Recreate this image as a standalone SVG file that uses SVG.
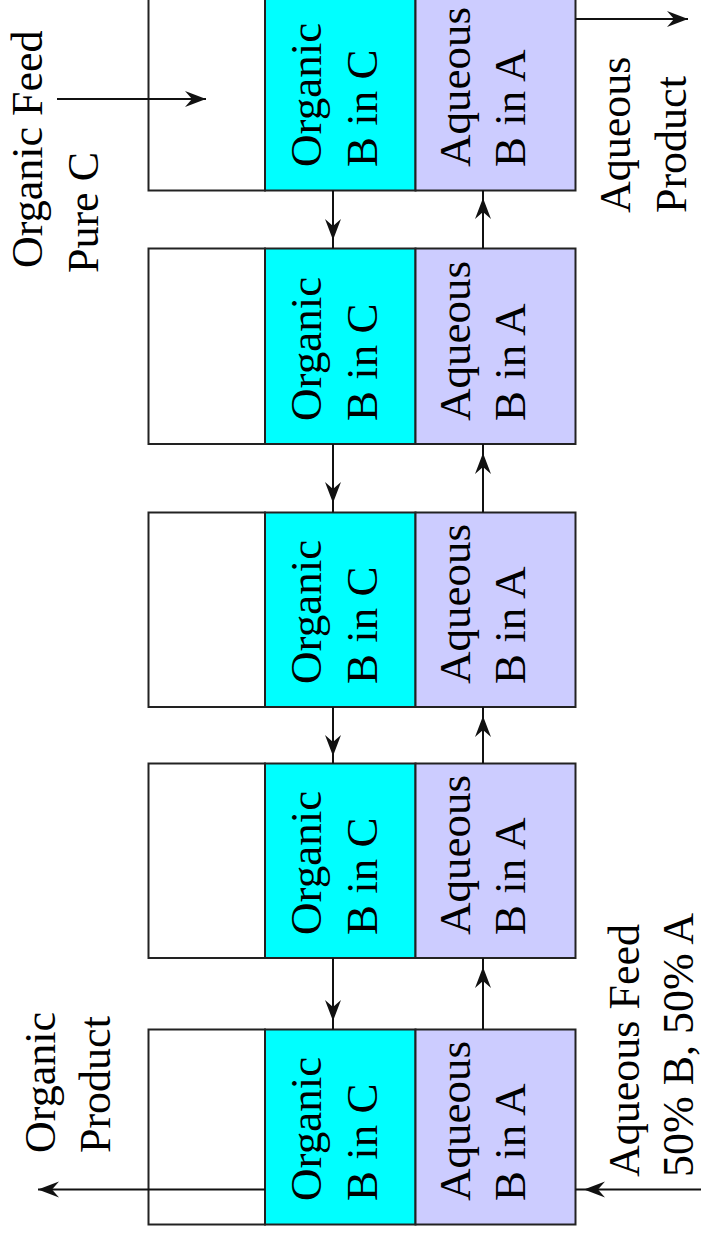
<svg xmlns="http://www.w3.org/2000/svg" width="701" height="1243" viewBox="0 0 701 1243">
<style>
.w{fill:#fff;stroke:#222;stroke-width:2}
.o{fill:#00ffff;stroke:#222;stroke-width:2}
.a{fill:#ccccff;stroke:#222;stroke-width:2}
.c{fill:none;stroke:#111;stroke-width:2}
</style>
<defs>
<marker id="ah" markerUnits="userSpaceOnUse" markerWidth="26" markerHeight="20" viewBox="-24 -10 26 20" refX="0" refY="0" orient="auto">
<path d="M0,0 L-21,-8 L-14,0 L-21,8 Z" fill="#111"/>
</marker>
</defs>
<rect width="701" height="1243" fill="#fff"/>

<g id="stage1">
<rect class="w" x="148.5" y="-10" width="116.5" height="200.5"/>
<rect class="o" x="265" y="-10" width="150.5" height="200.5"/>
<rect class="a" x="415.5" y="-10" width="160" height="200.5"/>
<text font-family="Liberation Serif" font-size="45" transform="translate(321,167) rotate(-90)">Organic</text>
<text font-family="Liberation Serif" font-size="45" transform="translate(377,167) rotate(-90)">B in C</text>
<text font-family="Liberation Serif" font-size="45" transform="translate(470,167) rotate(-90)">Aqueous</text>
<text font-family="Liberation Serif" font-size="45" transform="translate(525,167) rotate(-90)">B in A</text>
</g>

<g id="stage2">
<rect class="w" x="148.5" y="248.5" width="116.5" height="195.5"/>
<rect class="o" x="265" y="248.5" width="150.5" height="195.5"/>
<rect class="a" x="415.5" y="248.5" width="160" height="195.5"/>
<text font-family="Liberation Serif" font-size="45" transform="translate(321,421) rotate(-90)">Organic</text>
<text font-family="Liberation Serif" font-size="45" transform="translate(377,421) rotate(-90)">B in C</text>
<text font-family="Liberation Serif" font-size="45" transform="translate(470,421) rotate(-90)">Aqueous</text>
<text font-family="Liberation Serif" font-size="45" transform="translate(525,421) rotate(-90)">B in A</text>
</g>

<g id="stage3">
<rect class="w" x="148.5" y="512.5" width="116.5" height="194.5"/>
<rect class="o" x="265" y="512.5" width="150.5" height="194.5"/>
<rect class="a" x="415.5" y="512.5" width="160" height="194.5"/>
<text font-family="Liberation Serif" font-size="45" transform="translate(321,684) rotate(-90)">Organic</text>
<text font-family="Liberation Serif" font-size="45" transform="translate(377,684) rotate(-90)">B in C</text>
<text font-family="Liberation Serif" font-size="45" transform="translate(470,684) rotate(-90)">Aqueous</text>
<text font-family="Liberation Serif" font-size="45" transform="translate(525,684) rotate(-90)">B in A</text>
</g>

<g id="stage4">
<rect class="w" x="148.5" y="763.5" width="116.5" height="194.5"/>
<rect class="o" x="265" y="763.5" width="150.5" height="194.5"/>
<rect class="a" x="415.5" y="763.5" width="160" height="194.5"/>
<text font-family="Liberation Serif" font-size="45" transform="translate(321,935) rotate(-90)">Organic</text>
<text font-family="Liberation Serif" font-size="45" transform="translate(377,935) rotate(-90)">B in C</text>
<text font-family="Liberation Serif" font-size="45" transform="translate(470,935) rotate(-90)">Aqueous</text>
<text font-family="Liberation Serif" font-size="45" transform="translate(525,935) rotate(-90)">B in A</text>
</g>

<g id="stage5">
<rect class="w" x="148.5" y="1029.5" width="116.5" height="195"/>
<rect class="o" x="265" y="1029.5" width="150.5" height="195"/>
<rect class="a" x="415.5" y="1029.5" width="160" height="195"/>
<text font-family="Liberation Serif" font-size="45" transform="translate(321,1201) rotate(-90)">Organic</text>
<text font-family="Liberation Serif" font-size="45" transform="translate(377,1201) rotate(-90)">B in C</text>
<text font-family="Liberation Serif" font-size="45" transform="translate(470,1201) rotate(-90)">Aqueous</text>
<text font-family="Liberation Serif" font-size="45" transform="translate(525,1201) rotate(-90)">B in A</text>
</g>

<g id="connectors">
<path class="c" d="M57,99 H206" marker-end="url(#ah)"/>
<path class="c" d="M575.5,19 H688" marker-end="url(#ah)"/>
<path class="c" d="M333,190.5 V240 V248.5" marker-mid="url(#ah)"/>
<path class="c" d="M483,248.5 V198 V190.5" marker-mid="url(#ah)"/>
<path class="c" d="M333,444 V503 V512.5" marker-mid="url(#ah)"/>
<path class="c" d="M483,512.5 V453 V444" marker-mid="url(#ah)"/>
<path class="c" d="M333,707 V756 V763.5" marker-mid="url(#ah)"/>
<path class="c" d="M483,763.5 V716 V707" marker-mid="url(#ah)"/>
<path class="c" d="M333,958 V1021 V1029.5" marker-mid="url(#ah)"/>
<path class="c" d="M483,1029.5 V967 V958" marker-mid="url(#ah)"/>
<path class="c" d="M265,1189.5 H38" marker-end="url(#ah)"/>
<path class="c" d="M701,1189.5 H584 H575.5" marker-mid="url(#ah)"/>
</g>

<g id="label-organic-feed">
<text font-family="Liberation Serif" font-size="44" transform="translate(42,268) rotate(-90)">Organic Feed</text>
<text font-family="Liberation Serif" font-size="44" transform="translate(98,273) rotate(-90)">Pure C</text>
</g>
<g id="label-aqueous-product">
<text font-family="Liberation Serif" font-size="44" transform="translate(630,213) rotate(-90)">Aqueous</text>
<text font-family="Liberation Serif" font-size="44" transform="translate(686,213) rotate(-90)">Product</text>
</g>
<g id="label-organic-product">
<text font-family="Liberation Serif" font-size="44" transform="translate(55,1153) rotate(-90)">Organic</text>
<text font-family="Liberation Serif" font-size="44" transform="translate(110,1153) rotate(-90)">Product</text>
</g>
<g id="label-aqueous-feed">
<text font-family="Liberation Serif" font-size="44" transform="translate(639,1177) rotate(-90)">Aqueous Feed</text>
<text font-family="Liberation Serif" font-size="44" transform="translate(693,1177) rotate(-90)">50% B, 50% A</text>
</g>
</svg>
